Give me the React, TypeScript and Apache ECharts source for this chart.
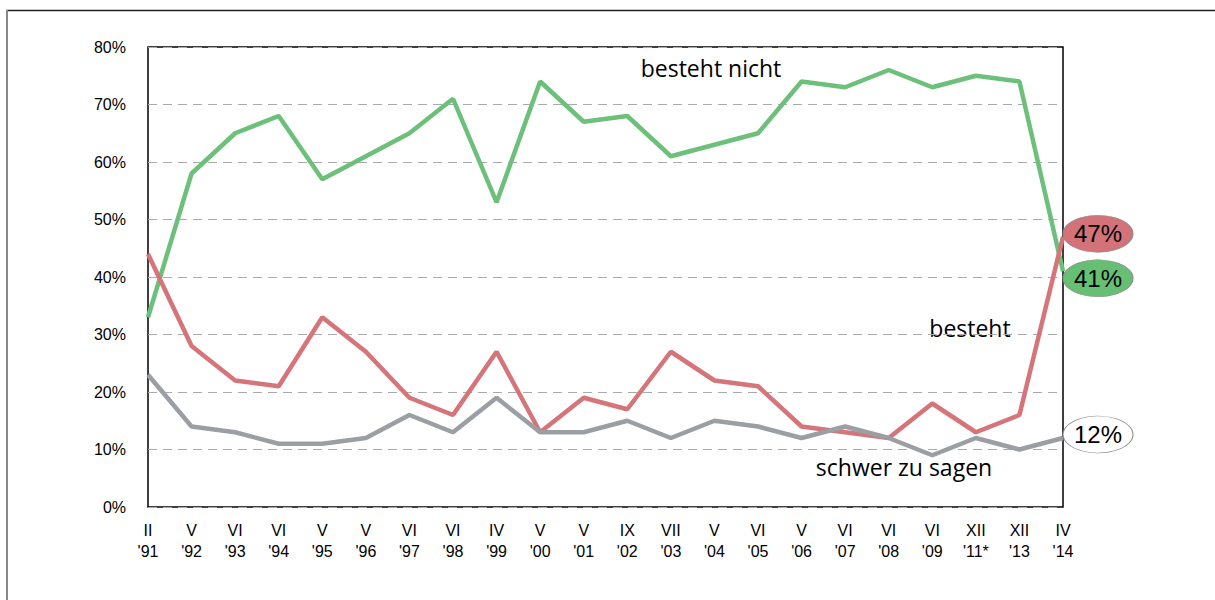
import React, { useEffect, useRef } from "react";
import * as echarts from "echarts";

const months = ["II", "V", "VI", "VI", "V", "V", "VI", "VI", "IV", "V", "V", "IX", "VII", "V", "VI", "V", "VI", "VI", "VI", "XII", "XII", "IV"];
const years = ["'91", "'92", "'93", "'94", "'95", "'96", "'97", "'98", "'99", "'00", "'01", "'02", "'03", "'04", "'05", "'06", "'07", "'08", "'09", "'11*", "'13", "'14"];
const bestehtNicht = [33, 58, 65, 68, 57, 61, 65, 71, 53, 74, 67, 68, 61, 63, 65, 74, 73, 76, 73, 75, 74, 41];
const besteht = [44, 28, 22, 21, 33, 27, 19, 16, 27, 13, 19, 17, 27, 22, 21, 14, 13, 12, 18, 13, 16, 47];
const schwerZuSagen = [23, 14, 13, 11, 11, 12, 16, 13, 19, 13, 13, 15, 12, 15, 14, 12, 14, 12, 9, 12, 10, 12];
const yTicks = [0, 10, 20, 30, 40, 50, 60, 70, 80];

const GREEN = "#6cc07a";
const RED = "#d57479";
const GRAY = "#9b9fa4";

export default function App() {
  const ref = useRef<HTMLDivElement>(null);
  useEffect(() => {
    document.body.style.margin = "0";
    const chart = echarts.init(ref.current!, null, { renderer: "svg" });
    const categories = months.map((m, i) => m + "\n" + years[i]);
    const last = categories.length - 1;
    const endLabel = (value: number, fill: string, dy: number) => ({
      type: "scatter",
      data: [[last, value]],
      symbol: "circle",
      symbolSize: [70, 37],
      symbolOffset: [35, dy],
      itemStyle: { color: fill, opacity: 1, borderColor: "#8a8a8a", borderWidth: 0.8 },
      label: {
        show: true,
        position: "inside",
        formatter: value + "%",
        color: "#000",
        fontSize: 24,
        fontFamily: "Liberation Sans, Arial, sans-serif",
      },
      z: 5,
      silent: true,
    });
    const annot = "23px 'Open Sans', 'Noto Sans', sans-serif";
    chart.setOption({
      animation: false,
      backgroundColor: "#fff",
      grid: { left: 148, right: 152, top: 47, bottom: 93, show: true, borderColor: "#000", borderWidth: 1.5, backgroundColor: "transparent" },
      xAxis: {
        type: "category",
        data: categories,
        boundaryGap: false,
        axisLine: { show: false },
        axisTick: { show: false },
        axisLabel: {
          interval: 0,
          color: "#000",
          fontSize: 16,
          lineHeight: 21,
          margin: 13,
          fontFamily: "Liberation Sans, Arial, sans-serif",
        },
      },
      yAxis: {
        type: "value",
        min: yTicks[0],
        max: yTicks[yTicks.length - 1],
        interval: 10,
        axisLine: { show: false },
        axisTick: { show: false },
        axisLabel: {
          formatter: "{value}%",
          color: "#000",
          fontSize: 16,
          margin: 22,
          fontFamily: "Liberation Sans, Arial, sans-serif",
        },
        splitLine: { show: true, lineStyle: { color: "#aaaaaa", width: 1, type: [9, 6] } },
      },
      series: [
        { type: "line", name: "besteht nicht", data: bestehtNicht, symbol: "none", lineStyle: { color: GREEN, width: 4.5 }, z: 3 },
        { type: "line", name: "besteht", data: besteht, symbol: "none", lineStyle: { color: RED, width: 4.5 }, z: 3 },
        { type: "line", name: "schwer zu sagen", data: schwerZuSagen, symbol: "none", lineStyle: { color: GRAY, width: 4.5 }, z: 3 },
        endLabel(besteht[last], "#d4727a", -3),
        endLabel(bestehtNicht[last], "#67bf74", 7),
        endLabel(schwerZuSagen[last], "#ffffff", -3.5),
      ],
      graphic: [
        { type: "line", shape: { x1: 6, y1: 10.5, x2: 1215, y2: 10.5 }, style: { stroke: "#222", lineWidth: 1.5 } },
        { type: "line", shape: { x1: 7, y1: 10, x2: 7, y2: 600 }, style: { stroke: "#888", lineWidth: 2 } },
        { type: "text", x: 711, y: 68, style: { text: "besteht nicht", fill: "#000", font: annot, textAlign: "center", textVerticalAlign: "middle" } },
        { type: "text", x: 970, y: 328, style: { text: "besteht", fill: "#000", font: annot, textAlign: "center", textVerticalAlign: "middle" } },
        { type: "text", x: 904, y: 467, style: { text: "schwer zu sagen", fill: "#000", font: annot, textAlign: "center", textVerticalAlign: "middle" } },
      ],
    });
    return () => chart.dispose();
  }, []);
  return <div ref={ref} style={{ width: 1215, height: 600 }} />;
}
